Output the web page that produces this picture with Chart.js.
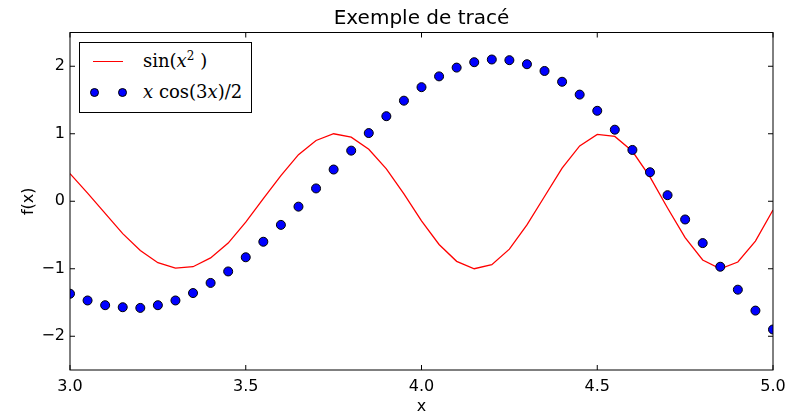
<!DOCTYPE html>
<html>
<head>
<meta charset="utf-8">
<script src="https://cdn.jsdelivr.net/npm/chart.js@4/dist/chart.umd.min.js"></script>
<style>
  body { margin: 0; background: #fff; }
  #wrap { position: relative; width: 800px; height: 412px; }
  #legend {
    position: absolute; left: 79px; top: 42px; width: 173px; height: 71px;
    box-sizing: border-box; border: 1px solid #000; background: #fff;
    font-family: "DejaVu Serif", serif; font-size: 18px; color: #000;
  }
  #legend .line { position: absolute; left: 13px; top: 18px; width: 30px; height: 1px; background: #ff0000; }
  #legend .dot {
    position: absolute; top: 45px; width: 9px; height: 9px; box-sizing: border-box;
    border-radius: 50%; background: #0000ff; border: 1px solid #000;
  }
  #legend .lbl { position: absolute; left: 63px; line-height: 20px; white-space: nowrap; }
  #legend sup { font-size: 12px; vertical-align: 7px; line-height: 0; }
</style>
</head>
<body>
<div id="wrap">
  <canvas id="chart"></canvas>
  <div id="legend">
    <span class="line"></span>
    <span class="lbl" style="top: 8px;">sin(<i>x</i><sup>2</sup> )</span>
    <span class="dot" style="left: 10px;"></span>
    <span class="dot" style="left: 38px;"></span>
    <span class="lbl" style="top: 39px;"><i>x</i> cos(3<i>x</i>)/2</span>
  </div>
</div>
<script>
const xValues = [3.00, 3.05, 3.10, 3.15, 3.20, 3.25, 3.30, 3.35, 3.40, 3.45,
  3.50, 3.55, 3.60, 3.65, 3.70, 3.75, 3.80, 3.85, 3.90, 3.95,
  4.00, 4.05, 4.10, 4.15, 4.20, 4.25, 4.30, 4.35, 4.40, 4.45,
  4.50, 4.55, 4.60, 4.65, 4.70, 4.75, 4.80, 4.85, 4.90, 4.95, 5.00];
const sinValues = [0.41, 0.12, -0.18, -0.48, -0.73, -0.91, -0.99, -0.97, -0.84, -0.62,
  -0.31, 0.04, 0.38, 0.69, 0.90, 1.00, 0.95, 0.77, 0.48, 0.11,
  -0.29, -0.64, -0.89, -1.00, -0.94, -0.71, -0.35, 0.07, 0.49, 0.82,
  0.99, 0.96, 0.74, 0.36, -0.10, -0.54, -0.87, -1.00, -0.90, -0.59, -0.13];
const cosValues = [-1.37, -1.47, -1.54, -1.57, -1.58, -1.54, -1.47, -1.36, -1.21, -1.04,
  -0.83, -0.60, -0.35, -0.08, 0.19, 0.47, 0.75, 1.01, 1.26, 1.49,
  1.69, 1.85, 1.98, 2.06, 2.10, 2.09, 2.03, 1.93, 1.77, 1.58,
  1.34, 1.06, 0.76, 0.43, 0.09, -0.27, -0.62, -0.97, -1.31, -1.62, -1.90];
const xTicks = [3.0, 3.5, 4.0, 4.5, 5.0];
const yTicks = [-2, -1, 0, 1, 2];

const tickFont = { family: 'DejaVu Sans', size: 16 };

// matplotlib style frame + inward ticks on all four sides
const framePlugin = {
  id: 'frame',
  afterDraw(chart) {
    const { ctx, chartArea: a, scales } = chart;
    const len = 5;
    ctx.save();
    ctx.strokeStyle = '#000';
    ctx.lineWidth = 1;
    ctx.strokeRect(a.left, a.top, a.right - a.left, a.bottom - a.top);
    ctx.beginPath();
    xTicks.forEach(v => {
      const px = scales.x.getPixelForValue(v);
      ctx.moveTo(px, a.bottom); ctx.lineTo(px, a.bottom - len);
      ctx.moveTo(px, a.top); ctx.lineTo(px, a.top + len);
    });
    yTicks.forEach(v => {
      const py = scales.y.getPixelForValue(v);
      ctx.moveTo(a.left, py); ctx.lineTo(a.left + len, py);
      ctx.moveTo(a.right, py); ctx.lineTo(a.right - len, py);
    });
    ctx.stroke();
    ctx.restore();
  }
};

const ctx = document.getElementById('chart').getContext('2d');
new Chart(ctx, {
  type: 'scatter',
  data: {
    datasets: [
      {
        label: 'x cos(3x)/2',
        data: xValues.map((x, i) => ({ x, y: cosValues[i] })),
        backgroundColor: '#0000ff',
        borderColor: '#000',
        borderWidth: 1,
        pointRadius: 4.5,
        order: 0,
        clip: 0
      },
      {
        label: 'sin(x^2)',
        data: xValues.map((x, i) => ({ x, y: sinValues[i] })),
        showLine: true,
        borderColor: '#ff0000',
        borderWidth: 1.3,
        pointRadius: 0,
        order: 1,
        clip: 0
      }
    ]
  },
  options: {
    responsive: true,
    maintainAspectRatio: false,
    animation: false,
    layout: { padding: { left: 0, right: 27, top: 0, bottom: 0 } },
    scales: {
      x: {
        type: 'linear', min: 3, max: 5,
        afterBuildTicks: s => { s.ticks = xTicks.map(v => ({ value: v })); },
        afterFit: s => { s.height = 42; },
        grid: { display: false, drawTicks: false },
        border: { display: false },
        ticks: { color: '#000', font: tickFont, padding: 7, maxRotation: 0,
          callback: v => v.toFixed(1) },
        title: { display: true, text: 'x', color: '#000', font: { family: 'DejaVu Sans', size: 16, lineHeight: 0.6 }, padding: 0 }
      },
      y: {
        type: 'linear', min: -2.5, max: 2.5,
        afterBuildTicks: s => { s.ticks = yTicks.map(v => ({ value: v })); },
        afterFit: s => { s.width = 70; },
        grid: { display: false, drawTicks: false },
        border: { display: false },
        ticks: { color: '#000', font: tickFont, padding: 5,
          callback: v => (v < 0 ? '\u2212' + Math.abs(v) : String(v)) },
        title: { display: true, text: 'f(x)', color: '#000', font: { family: 'DejaVu Sans', size: 16, lineHeight: 1 }, padding: { top: 21 } }
      }
    },
    plugins: {
      legend: { display: false },
      tooltip: { enabled: false },
      title: {
        display: true, text: 'Exemple de tracé', color: '#000', fullSize: false,
        font: { family: 'DejaVu Sans', size: 20, weight: 'normal', lineHeight: 1.2 },
        padding: { top: 7, bottom: 1.5 }
      }
    }
  },
  plugins: [framePlugin]
});
</script>
</body>
</html>
